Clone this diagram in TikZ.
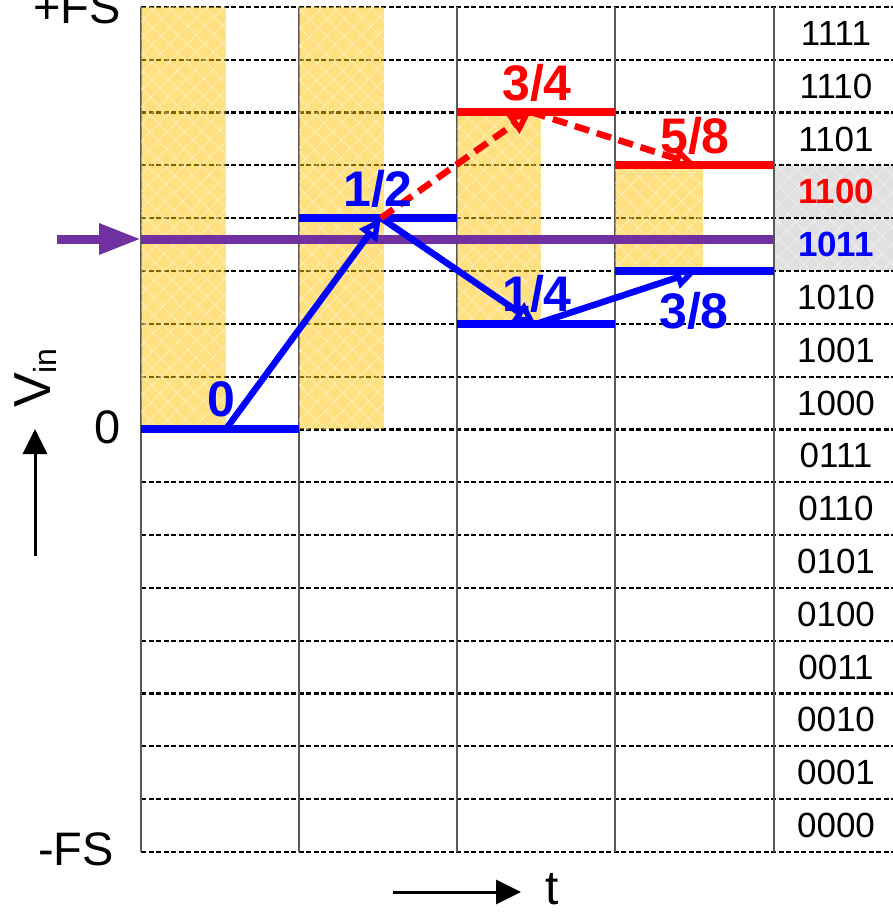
\documentclass[tikz,border=0pt]{standalone}
\usepackage{fontspec}
\setmainfont{Liberation Sans}
\usepackage{tikz}
\usetikzlibrary{arrows.meta,patterns.meta}
\definecolor{gold}{RGB}{255,192,0}
\definecolor{vpurple}{RGB}{112,48,160}
\definecolor{cellgray}{RGB}{224,224,224}

\begin{document}
\begin{tikzpicture}[x=1pt,y=-1pt,
  gridline/.style={black,line width=2.2pt,dash pattern=on 5pt off 2.5pt},
  colline/.style={black!65,line width=1.5pt},
  band/.style={fill=gold,fill opacity=.5},
  hatch/.style={pattern={Hatch[angle=45,distance=13pt,line width=1.2pt]},pattern color=white,fill opacity=.45},
  lvl/.style={draw=#1,line width=8.5pt},
  hop/.style={draw=#1,line width=6.5pt,-{Triangle[open,length=22pt,width=21pt]}},
  frac/.style={text=#1,inner sep=0pt,font=\fontsize{50}{50}\selectfont\bfseries},
  codetext/.style={inner sep=0pt,font=\fontsize{35}{35}\selectfont},
  codered/.style={codetext,text=red,font=\fontsize{35}{35}\selectfont\bfseries},
  codeblue/.style={codetext,text=blue,font=\fontsize{35}{35}\selectfont\bfseries},
  sidelabel/.style={anchor=east,inner sep=0pt,font=\fontsize{47}{47}\selectfont},
  axis/.style={line width=3pt,-{Triangle[length=25pt,width=24pt]}}]
  \useasboundingbox (0,0) rectangle (893,912);
  \fill[cellgray] (774,165) rectangle (893,271);
  \fill[hatch] (774,165) rectangle (893,271);
  \foreach \k in {0,...,16}
    \draw[gridline] (141,{7+52.8*\k}) -- (893,{7+52.8*\k});
  \foreach \x in {141,299,457,615,774}
    \draw[colline] (\x,7) -- (\x,852);
  \foreach \xa/\xb/\ya/\yb in {141/226/7/429,299/384/7/429,457/541/112/324,615/703/165/271} {
    \fill[band] (\xa,\ya) rectangle (\xb,\yb);
    \fill[hatch] (\xa,\ya) rectangle (\xb,\yb);
  }
  \coordinate (vsrc) at (57,239);
  \coordinate (vhit) at (141,239);
  \coordinate (vend) at (774,239);
  \draw[vpurple,line width=9pt,-{Triangle[length=42pt,width=29pt]}] (vsrc) -- (vhit);
  \draw[vpurple,line width=9pt] (vhit) -- (vend);
  \draw[lvl=blue] (141,429) -- (299,429);
  \draw[lvl=blue] (299,218) -- (457,218);
  \draw[lvl=red] (457,112) -- (615,112);
  \draw[lvl=blue] (457,324) -- (615,324);
  \draw[lvl=red] (615,165) -- (774,165);
  \draw[lvl=blue] (615,271) -- (774,271);
  \coordinate (s0) at (226,429);
  \coordinate (s1) at (381,218);
  \coordinate (s2) at (531,112);
  \coordinate (s3) at (696,165);
  \coordinate (s4) at (536,324);
  \coordinate (s5) at (697,271);
  \draw[hop=blue] (s0) -- (s1);
  \draw[hop=blue] (s1) -- (s4);
  \draw[hop=blue] (s4) -- (s5);
  \draw[hop=red,dash pattern=on 15pt off 8pt] (s1) -- (s2);
  \draw[hop=red,dash pattern=on 15pt off 8pt] (s2) -- (s3);
  \node[frac=blue] (f0) at (221,399) {0};
  \node[frac=blue] (f1) at (378,189) {1/2};
  \node[frac=red] (f2) at (537,83) {3/4};
  \node[frac=red] (f3) at (695,136) {5/8};
  \node[frac=blue] (f4) at (537,294) {1/4};
  \node[frac=blue] (f5) at (694,311) {3/8};
  \foreach \c/\s [count=\i from 0] in {1111/codetext,1110/codetext,1101/codetext,1100/codered,
      1011/codeblue,1010/codetext,1001/codetext,1000/codetext,0111/codetext,0110/codetext,
      0101/codetext,0100/codetext,0011/codetext,0010/codetext,0001/codetext,0000/codetext}
    \node[\s] (c\c) at (836,{7+52.8*(\i+0.5)}) {\c};
  \node[sidelabel] (pfs) at (121,7) {+FS};
  \node[sidelabel] (zero) at (121,427) {0};
  \node[sidelabel] (mfs) at (114,849) {-FS};
  \node[rotate=90,inner sep=0pt,font=\fontsize{52}{52}\selectfont] (vin) at (36,378)
    {V\raisebox{-6pt}{\fontsize{32}{32}\selectfont in}};
  \coordinate (ya) at (35,556);
  \coordinate (yb) at (35,429);
  \draw[axis] (ya) -- (yb);
  \coordinate (ta) at (393,892);
  \coordinate (tb) at (521,892);
  \draw[axis] (ta) -- (tb);
  \node[inner sep=0pt,font=\fontsize{48}{48}\selectfont] (tlab) at (552,889) {t};
\end{tikzpicture}
\end{document}
